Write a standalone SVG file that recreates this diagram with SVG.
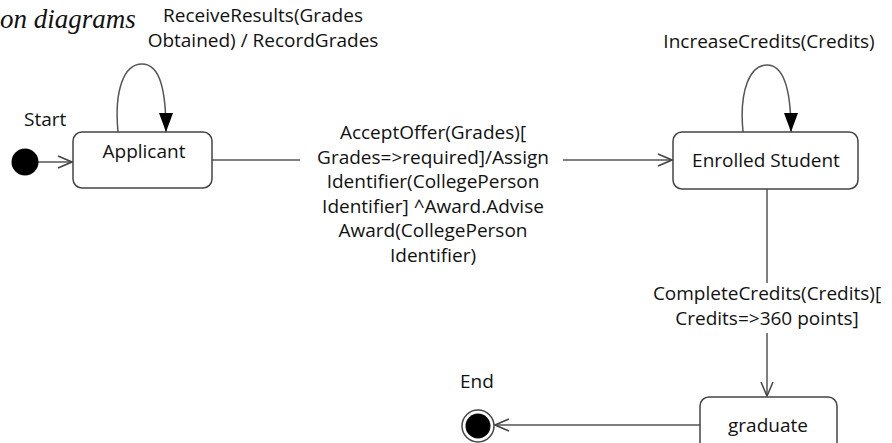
<svg xmlns="http://www.w3.org/2000/svg" width="892" height="443" viewBox="0 0 892 443">
<style>
.lbl{font-family:"Open Sans","Liberation Sans",Arial,sans-serif;font-size:19px;fill:#111;}
.mid{text-anchor:middle;}
.state{fill:#fff;stroke:#444;stroke-width:1.5;}
.conn{fill:none;stroke:#555;stroke-width:1.5;}
.cap{font-family:"Liberation Serif","Times New Roman",serif;font-style:italic;font-size:27px;fill:#111;}
</style>
<defs>
<marker id="open" markerWidth="16" markerHeight="14" refX="15" refY="7" orient="auto" markerUnits="userSpaceOnUse">
<path d="M1,1 L15,7 L1,13" fill="none" stroke="#444" stroke-width="1.5"/>
</marker>
<marker id="filled" markerWidth="14" markerHeight="20" refX="7" refY="19" orient="0" markerUnits="userSpaceOnUse">
<path d="M0,0 L14,0 L7,19 Z" fill="#000"/>
</marker>
</defs>
<text class="cap" x="0" y="28">on diagrams</text>
<g id="connectors">
<line class="conn" x1="38" y1="162" x2="72" y2="162" marker-end="url(#open)"/>
<path class="conn" d="M118,132 C114,90 124,64 142,64 C160,64 166,90 166,132" marker-end="url(#filled)"/>
<line class="conn" x1="212" y1="160" x2="300" y2="160"/>
<line class="conn" x1="563" y1="160" x2="672" y2="160" marker-end="url(#open)"/>
<path class="conn" d="M743,132 C739,90 750,65 767,65 C784,65 791,90 791,132" marker-end="url(#filled)"/>
<line class="conn" x1="767" y1="189" x2="767" y2="283"/>
<line class="conn" x1="767" y1="333" x2="767" y2="396" marker-end="url(#open)"/>
<line class="conn" x1="700" y1="425" x2="495" y2="425" marker-end="url(#open)"/>
<text class="lbl mid" x="263" y="22">ReceiveResults(Grades</text>
<text class="lbl mid" x="263" y="47">Obtained) / RecordGrades</text>
<text class="lbl mid" x="433" y="139">AcceptOffer(Grades)[</text>
<text class="lbl mid" x="433" y="164">Grades=&gt;required]/Assign</text>
<text class="lbl mid" x="433" y="188">Identifier(CollegePerson</text>
<text class="lbl mid" x="433" y="213">Identifier] ^Award.Advise</text>
<text class="lbl mid" x="433" y="237">Award(CollegePerson</text>
<text class="lbl mid" x="433" y="262">Identifier)</text>
<text class="lbl mid" x="769" y="48">IncreaseCredits(Credits)</text>
<text class="lbl mid" x="767" y="300">CompleteCredits(Credits)[</text>
<text class="lbl mid" x="767" y="325">Credits=&gt;360 points]</text>
</g>
<g id="start">
<circle cx="25" cy="162" r="13.5" fill="#000"/>
<text class="lbl" x="24" y="126">Start</text>
</g>
<g id="applicant">
<rect class="state" x="73" y="132" width="139" height="56" rx="9"/>
<text class="lbl mid" x="144" y="158">Applicant</text>
</g>
<g id="enrolled">
<rect class="state" x="673" y="132" width="185" height="57" rx="9"/>
<text class="lbl mid" x="766" y="167">Enrolled Student</text>
</g>
<g id="graduate">
<rect class="state" x="700" y="397" width="137" height="60" rx="9"/>
<text class="lbl mid" x="768" y="432">graduate</text>
</g>
<g id="end">
<circle cx="478" cy="426" r="16" fill="#fff" stroke="#444" stroke-width="1.5"/>
<circle cx="478" cy="426" r="12.5" fill="#000"/>
<text class="lbl" x="460" y="388">End</text>
</g>
</svg>
